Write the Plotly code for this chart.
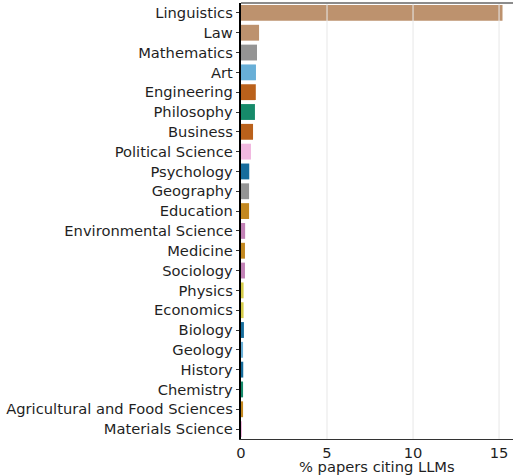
import plotly.graph_objects as go

# Disciplinas y porcentaje de artículos que citan LLMs
disciplinas = [
    "Linguistics", "Law", "Mathematics", "Art", "Engineering", "Philosophy",
    "Business", "Political Science", "Psychology", "Geography", "Education",
    "Environmental Science", "Medicine", "Sociology", "Physics", "Economics",
    "Biology", "Geology", "History", "Chemistry",
    "Agricultural and Food Sciences", "Materials Science",
]
porcentaje = [
    15.2, 1.05, 0.93, 0.87, 0.86, 0.81,
    0.70, 0.58, 0.48, 0.47, 0.47,
    0.24, 0.23, 0.23, 0.15, 0.15,
    0.17, 0.12, 0.13, 0.12,
    0.12, 0.04,
]
colores = [
    "#bd926e", "#bd926e", "#949494", "#68afd7", "#ba611b", "#168a6a",
    "#ba611b", "#f1b8e0", "#176d9c", "#949494", "#c38820",
    "#c282b6", "#c38820", "#c282b6", "#d5cc4a", "#d5cc4a",
    "#176d9c", "#68afd7", "#176d9c", "#168a6a",
    "#c38820", "#f1b8e0",
]
ticks_x = [0, 5, 10, 15]

fig = go.Figure()
fig.add_trace(go.Bar(
    x=porcentaje,
    y=disciplinas,
    orientation="h",
    marker=dict(color=colores, line=dict(width=0)),
    showlegend=False,
))

# Líneas de grilla por encima de las barras (como en el original)
for t in ticks_x[1:]:
    fig.add_shape(
        type="line", xref="x", yref="paper",
        x0=t, x1=t, y0=0, y1=1,
        line=dict(color="rgba(232,232,232,0.8)", width=1.3),
        layer="above",
    )
# Borde superior
fig.add_shape(
    type="line", xref="paper", yref="paper",
    x0=0, x1=1, y0=1, y1=1,
    line=dict(color="#666666", width=1.5),
    layer="above",
)

# Título del eje x como anotación para controlar su posición
fig.add_annotation(
    text="% papers citing LLMs",
    xref="paper", yref="paper",
    x=0.5, y=0, xanchor="center", yanchor="top",
    yshift=-17,
    showarrow=False,
    font=dict(size=14.7),
)

fig.update_layout(
    width=513,
    height=476,
    margin=dict(l=241, r=0, t=3, b=37),
    plot_bgcolor="white",
    paper_bgcolor="white",
    bargap=0.2,
    font=dict(family="DejaVu Sans", size=14.7, color="#1f1f1f"),
)
fig.update_xaxes(
    range=[0, 15.81],
    tickvals=ticks_x,
    ticktext=[str(t) for t in ticks_x],
    tickfont=dict(size=14.7),
    showgrid=False,
    zeroline=False,
    showline=True,
    linecolor="#333333",
    linewidth=1.2,
    ticks="",
    automargin=False,
)
fig.update_yaxes(
    categoryorder="array",
    categoryarray=disciplinas,
    autorange="reversed",
    showgrid=False,
    showline=True,
    linecolor="black",
    linewidth=1.5,
    ticks="outside",
    ticklen=3.5,
    tickcolor="#333333",
    tickfont=dict(size=14.7),
    automargin=False,
)

# Quitar el margen por defecto del body para que la figura empiece en (0, 0)
fig.write_html(
    "out.html",
    config={"displayModeBar": False},
    post_script="document.body.style.margin='0px';document.body.style.overflow='hidden';",
)
